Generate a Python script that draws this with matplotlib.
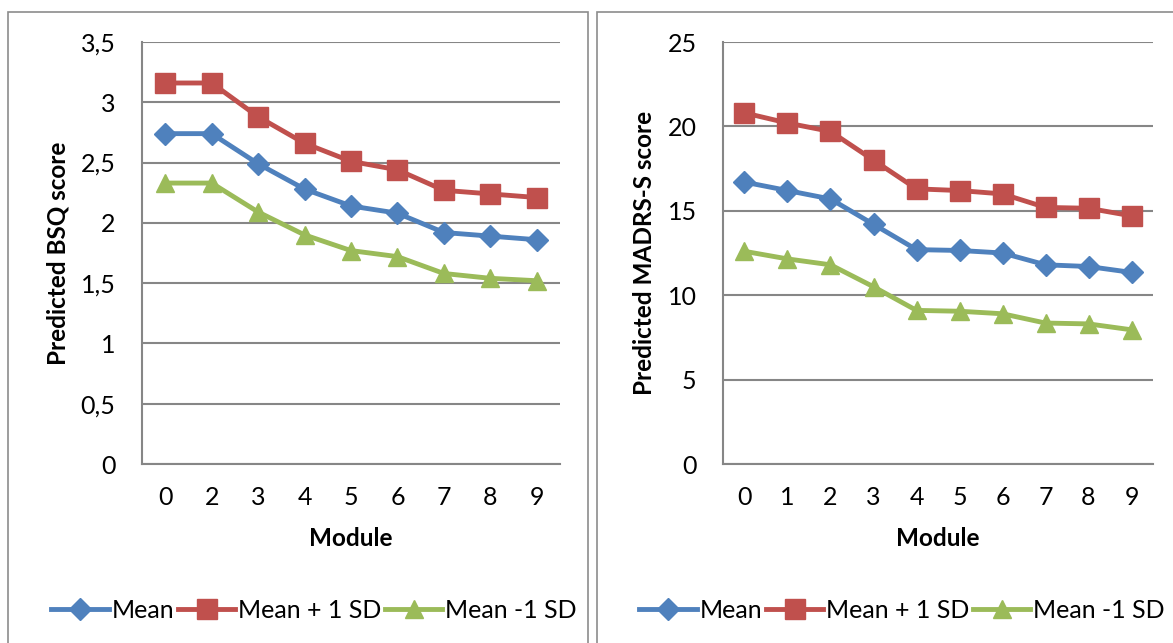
import matplotlib.pyplot as plt
from matplotlib.patches import Rectangle
from matplotlib.lines import Line2D

plt.rcParams['font.family'] = ['Lato', 'DejaVu Sans']

# left chart: BSQ
bsq_modules = ['0', '2', '3', '4', '5', '6', '7', '8', '9']
bsq_mean = [2.74, 2.74, 2.49, 2.28, 2.14, 2.08, 1.92, 1.89, 1.86]
bsq_plus = [3.16, 3.16, 2.88, 2.66, 2.51, 2.44, 2.27, 2.24, 2.21]
bsq_minus = [2.33, 2.33, 2.09, 1.90, 1.77, 1.72, 1.58, 1.54, 1.52]
bsq_ticks = [0, 0.5, 1, 1.5, 2, 2.5, 3, 3.5]
bsq_ticklabels = ['0', '0,5', '1', '1,5', '2', '2,5', '3', '3,5']

# right chart: MADRS-S
mad_modules = ['0', '1', '2', '3', '4', '5', '6', '7', '8', '9']
mad_mean = [16.7, 16.2, 15.7, 14.2, 12.7, 12.65, 12.5, 11.8, 11.7, 11.35]
mad_plus = [20.8, 20.2, 19.7, 18.0, 16.3, 16.2, 16.0, 15.2, 15.15, 14.7]
mad_minus = [12.6, 12.15, 11.8, 10.5, 9.1, 9.05, 8.9, 8.35, 8.3, 7.95]
mad_ticks = [0, 5, 10, 15, 20, 25]

blue = '#4F81BD'
red = '#C0504D'
green = '#9BBB59'
grid = '#868686'

W, H = 1173, 643
fig = plt.figure(figsize=(W / 100, H / 100), dpi=100)

# panel borders
for x0, x1 in [(8, 588), (597, 1180)]:
    fig.patches.append(Rectangle((x0 / W, -0.05), (x1 - x0) / W, 1.05 - 12 / H,
                                 transform=fig.transFigure, fill=False,
                                 edgecolor='#8c8c8c', linewidth=1.2))


def panel(ax, cats, mean, plus, minus, ticks, ticklabels, ylabel):
    x = range(len(cats))
    ax.plot(x, mean, color=blue, lw=3.5, marker='D', ms=11, label='Mean')
    ax.plot(x, plus, color=red, lw=3.5, marker='s', ms=14, label='Mean + 1 SD')
    ax.plot(x, minus, color=green, lw=3.5, marker='^', ms=13, label='Mean -1 SD')
    ax.set_xlim(-0.5, len(cats) - 0.5)
    ax.set_ylim(ticks[0], ticks[-1])
    ax.set_yticks(ticks)
    ax.set_yticklabels(ticklabels)
    ax.set_xticks(list(x))
    ax.set_xticklabels(cats)
    ax.grid(axis='y', color=grid, lw=1.5)
    ax.set_axisbelow(True)
    for s in ['top', 'right']:
        ax.spines[s].set_visible(False)
    for s in ['left', 'bottom']:
        ax.spines[s].set_color(grid)
        ax.spines[s].set_linewidth(1.5)
    ax.tick_params(length=0, labelsize=18, pad=16)
    ax.tick_params(axis='y', pad=19)
    ax.set_xlabel('Module', fontsize=17.5, fontweight='bold', labelpad=13)
    ax.set_ylabel(ylabel, fontsize=17.5, fontweight='bold', labelpad=8)


ax1 = fig.add_axes([142 / W, 1 - 464 / H, 418 / W, 422 / H])
panel(ax1, bsq_modules, bsq_mean, bsq_plus, bsq_minus, bsq_ticks,
      bsq_ticklabels, 'Predicted BSQ score')
ax2 = fig.add_axes([723 / W, 1 - 464 / H, 430 / W, 422 / H])
panel(ax2, mad_modules, mad_mean, mad_plus, mad_minus, mad_ticks,
      [str(t) for t in mad_ticks], 'Predicted MADRS-S score')

handles = [
    Line2D([], [], color=blue, lw=3.5, marker='D', ms=11),
    Line2D([], [], color=red, lw=3.5, marker='s', ms=14),
    Line2D([], [], color=green, lw=3.5, marker='^', ms=13),
]
labels = ['Mean', 'Mean + 1 SD', 'Mean -1 SD']
for cx in [314, 902]:
    fig.legend(handles, labels, loc='center', bbox_to_anchor=(cx / W, 1 - 610 / H),
               ncol=3, frameon=False, fontsize=18, handlelength=2.3,
               handletextpad=0.1, columnspacing=0.15)

fig.savefig('out.png', dpi=100)
